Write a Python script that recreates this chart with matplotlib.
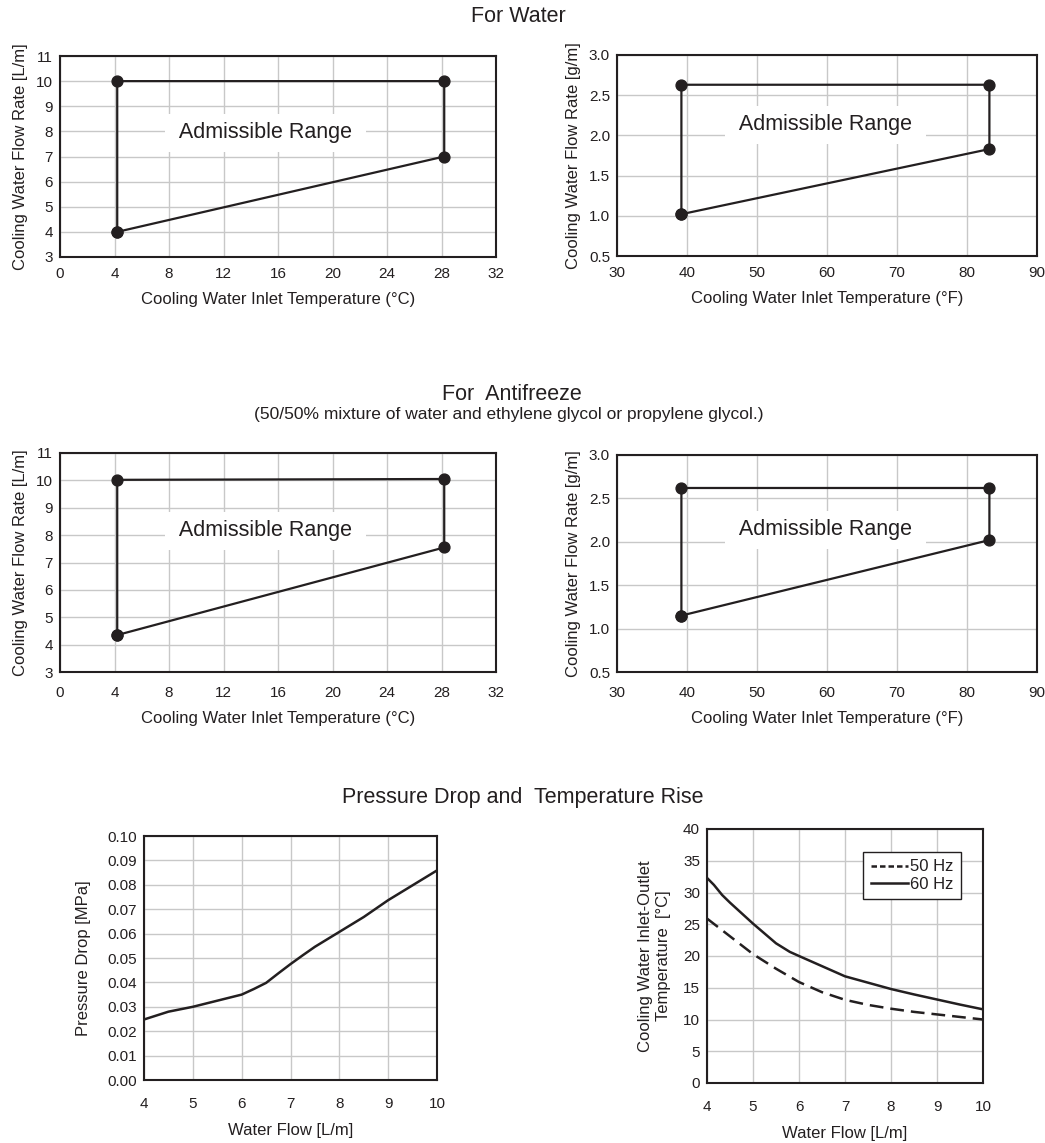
import matplotlib
matplotlib.use('Agg')
import matplotlib.pyplot as plt
from matplotlib.lines import Line2D

plt.rcParams['font.family'] = ['Liberation Sans', 'DejaVu Sans']
plt.rcParams['text.color'] = '#231f20'
plt.rcParams['axes.labelcolor'] = '#231f20'
plt.rcParams['xtick.color'] = '#231f20'
plt.rcParams['ytick.color'] = '#231f20'

# admissible range corners (closed polygon), water
water_c_x = [4.2, 4.2, 28.2, 28.2, 4.2]
water_c_y = [4.0, 10.0, 10.0, 7.0, 4.0]
water_f_x = [39.2, 39.2, 83.2, 83.2, 39.2]
water_f_y = [1.02, 2.63, 2.63, 1.83, 1.02]

# antifreeze
anti_c_x = [4.2, 4.2, 28.2, 28.2, 4.2]
anti_c_y = [4.35, 10.02, 10.05, 7.55, 4.35]
anti_f_x = [39.2, 39.2, 83.2, 83.2, 39.2]
anti_f_y = [1.15, 2.62, 2.62, 2.02, 1.15]

# pressure drop
flow_p = [4.0, 4.5, 5.0, 5.5, 6.0, 6.25, 6.5, 6.75, 7.0, 7.25, 7.5, 8.0, 8.5, 9.0, 9.5, 10.0]
pdrop = [0.0248, 0.028, 0.030, 0.0325, 0.035, 0.0373, 0.0398, 0.0437, 0.0475, 0.0511,
         0.0546, 0.0607, 0.0668, 0.0737, 0.0798, 0.0859]

# temperature rise
flow_60 = [4.0, 4.15, 4.33, 4.5, 5.0, 5.5, 5.8, 6.0, 6.5, 7.0, 7.5, 8.0, 8.5, 9.0, 9.5, 10.0]
rise_60 = [32.3, 31.2, 29.6, 28.4, 25.1, 22.0, 20.65, 20.0, 18.4, 16.8, 15.8, 14.8, 13.95,
           13.15, 12.35, 11.6]
flow_50 = [4.0, 4.5, 5.0, 5.5, 6.0, 6.5, 7.0, 7.5, 8.0, 8.5, 9.0, 9.5, 10.0]
rise_50 = [25.9, 23.1, 20.3, 18.0, 15.9, 14.3, 13.1, 12.3, 11.7, 11.2, 10.8, 10.4, 10.0]

W, H = 1045, 1143
fig = plt.figure(figsize=(W / 100, H / 100), dpi=100)
INK = '#231f20'


def px_axes(x0, x1, y0, y1):
    return fig.add_axes([x0 / W, 1 - y1 / H, (x1 - x0) / W, (y1 - y0) / H])


def style(ax):
    ax.grid(True, color='#c8c8c8', lw=1.0)
    ax.set_axisbelow(True)
    for s in ax.spines.values():
        s.set_linewidth(1.5)
        s.set_color(INK)
    ax.tick_params(length=0, labelsize=11, pad=7)


def range_plot(ax, xs, ys, xlim, xticks, ylim, yticks, xlabel, ylabel, txt_xy):
    style(ax)
    ax.plot(xs, ys, color=INK, lw=1.6, marker='o', ms=7.8, zorder=3)
    ax.set_xlim(*xlim)
    ax.set_ylim(*ylim)
    ax.set_xticks(xticks)
    ax.set_yticks(yticks)
    ax.tick_params(axis='y', pad=5)
    ax.set_xlabel(xlabel, fontsize=12, labelpad=8)
    ax.set_ylabel(ylabel, fontsize=12, labelpad=6)
    ax.text(txt_xy[0], txt_xy[1], ' Admissible Range ', fontsize=15.5, ha='center', va='center',
            bbox=dict(boxstyle='square,pad=0.4', fc='white', ec='none'), zorder=2)


c_ticks = list(range(0, 33, 4))
lm_ticks = list(range(3, 12))
f_ticks = list(range(30, 91, 10))
g_ticks = [0.5, 1.0, 1.5, 2.0, 2.5, 3.0]

ax1 = px_axes(60, 496, 56, 257)
range_plot(ax1, water_c_x, water_c_y, (0, 32), c_ticks, (3, 11), lm_ticks,
           'Cooling Water Inlet Temperature (°C)', 'Cooling Water Flow Rate [L/m]', (15.1, 7.95))
ax2 = px_axes(617, 1037, 55, 256)
range_plot(ax2, water_f_x, water_f_y, (30, 90), f_ticks, (0.5, 3.0), g_ticks,
           'Cooling Water Inlet Temperature (°F)', 'Cooling Water Flow Rate [g/m]', (59.8, 2.13))
ax2.set_yticklabels(['%.1f' % v for v in g_ticks])

ax3 = px_axes(60, 496, 453, 672)
range_plot(ax3, anti_c_x, anti_c_y, (0, 32), c_ticks, (3, 11), lm_ticks,
           'Cooling Water Inlet Temperature (°C)', 'Cooling Water Flow Rate [L/m]', (15.1, 8.16))
ax3.tick_params(axis='x', pad=10)
ax4 = px_axes(617, 1037, 455, 672)
range_plot(ax4, anti_f_x, anti_f_y, (30, 90), f_ticks, (0.5, 3.0), g_ticks,
           'Cooling Water Inlet Temperature (°F)', 'Cooling Water Flow Rate [g/m]', (59.8, 2.14))
ax4.set_yticklabels(['%.1f' % v for v in g_ticks])
ax4.tick_params(axis='x', pad=10)

# pressure drop
ax5 = px_axes(144, 437, 836, 1080)
style(ax5)
ax5.plot(flow_p, pdrop, color=INK, lw=1.8)
ax5.set_xlim(4, 10)
ax5.set_ylim(0, 0.10)
ax5.set_xticks(range(4, 11))
ax5.set_yticks([i / 100 for i in range(11)])
ax5.set_yticklabels(['%.2f' % (i / 100) for i in range(11)])
ax5.tick_params(axis='x', pad=12)
ax5.tick_params(axis='y', pad=5)
ax5.set_xlabel('Water Flow [L/m]', fontsize=12, labelpad=9)
ax5.set_ylabel('Pressure Drop [MPa]', fontsize=12, labelpad=12)

# temperature rise
ax6 = px_axes(707, 983, 829, 1083)
style(ax6)
ax6.plot(flow_50, rise_50, color=INK, lw=1.8, ls=(0, (5.5, 2.8)))
ax6.plot(flow_60, rise_60, color=INK, lw=1.8)
ax6.set_xlim(4, 10)
ax6.set_ylim(0, 40)
ax6.set_xticks(range(4, 11))
ax6.set_yticks(range(0, 41, 5))
ax6.tick_params(axis='x', pad=12)
ax6.tick_params(axis='y', pad=5)
ax6.set_xlabel('Water Flow [L/m]', fontsize=12, labelpad=9)
ax6.set_ylabel('Cooling Water Inlet-Outlet\nTemperature  [°C]', fontsize=12, labelpad=9,
               linespacing=1.25)
handles = [Line2D([], [], color=INK, lw=1.8, ls=(0, (2.2, 1.2))),
           Line2D([], [], color=INK, lw=1.8)]
leg = ax6.legend(handles, ['50 Hz', '60 Hz'], loc='upper right', bbox_to_anchor=(0.92, 0.91),
                 borderaxespad=0, fontsize=12, frameon=True, fancybox=False,
                 handlelength=2.2, handletextpad=0.15, borderpad=0.45, labelspacing=0.15)
leg.get_frame().set_edgecolor(INK)
leg.get_frame().set_linewidth(1.0)
leg.get_frame().set_alpha(1)

fig.text(518 / W, 1 - 16 / H, 'For Water', fontsize=15.5, ha='center', va='center')
fig.text(512 / W, 1 - 394 / H, 'For  Antifreeze', fontsize=15.5, ha='center', va='center')
fig.text(509 / W, 1 - 415 / H, '(50/50% mixture of water and ethylene glycol or propylene glycol.)',
         fontsize=12.5, ha='center', va='center')
fig.text(523 / W, 1 - 797 / H, 'Pressure Drop and  Temperature Rise', fontsize=15.5,
         ha='center', va='center')

fig.savefig('out.png', dpi=100)
